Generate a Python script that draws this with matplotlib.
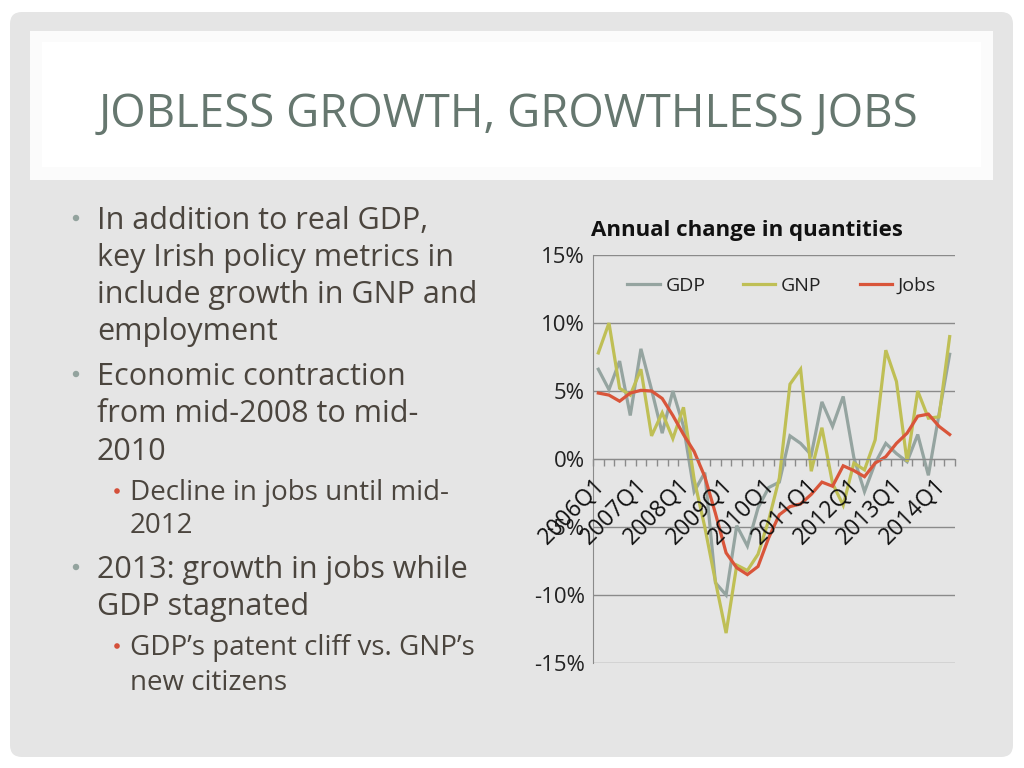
import matplotlib
matplotlib.use("Agg")
import matplotlib.pyplot as plt
from matplotlib.patches import FancyBboxPatch, Rectangle, Circle
from matplotlib.transforms import offset_copy
import numpy as np

# ---------------- data ----------------
quarters = [f"{y}Q{q}" for y in range(2006, 2015) for q in range(1, 5)][:34]
tick_labels = [q if q.endswith("Q1") else "" for q in quarters]

gdp = [6.6, 5.1, 7.2, 3.2, 8.1, 5.1, 1.9, 5.0, 2.4, -2.4, -1.0, -9.1, -10.0, -4.9,
       -6.4, -3.6, -2.1, -1.7, 1.7, 1.15, 0.3, 4.2, 2.4, 4.6, 0.1, -2.4, -0.3, 1.15,
       0.4, -0.2, 1.8, -1.2, 3.3, 7.7]
gnp = [7.8, 10.0, 5.2, 4.7, 6.6, 1.7, 3.4, 1.5, 3.8, -1.5, -5.0, -9.0, -12.8, -7.8,
       -8.2, -7.0, -4.5, -1.4, 5.5, 6.6, -0.9, 2.3, -1.8, -3.4, -0.3, -0.8, 1.4, 8.0,
       5.7, -0.2, 5.0, 3.0, 3.1, 9.0]
jobs = [4.85, 4.7, 4.25, 4.85, 5.05, 5.0, 4.45, 3.2, 1.8, 0.55, -1.3, -4.0, -6.9, -8.0,
        -8.5, -7.9, -5.8, -4.1, -3.5, -3.3, -2.6, -1.7, -2.0, -0.5, -0.85, -1.3, -0.3,
        0.17, 1.15, 1.9, 3.15, 3.3, 2.4, 1.8]
series_names = ["GDP", "GNP", "Jobs"]
y_ticks = [-15, -10, -5, 0, 5, 10, 15]

title = "JOBLESS GROWTH, GROWTHLESS JOBS"
chart_title = "Annual change in quantities"
bullets = [
    # (level, lines)
    (0, ["In addition to real GDP,", "key Irish policy metrics in",
         "include growth in GNP and", "employment"]),
    (0, ["Economic contraction", "from mid-2008 to mid-", "2010"]),
    (1, ["Decline in jobs until mid-", "2012"]),
    (0, ["2013: growth in jobs while", "GDP stagnated"]),
    (1, ["GDP\u2019s patent cliff vs. GNP\u2019s", "new citizens"]),
]

# ---------------- style ----------------
FONT = "Open Sans"
plt.rcParams["font.family"] = [FONT, "DejaVu Sans"]
W, H = 1024, 768
fig = plt.figure(figsize=(W / 100, H / 100), dpi=100)
fig.patch.set_facecolor("white")

bg = fig.add_axes([0, 0, 1, 1])
bg.set_xlim(0, W)
bg.set_ylim(H, 0)
bg.axis("off")

bg.add_patch(FancyBboxPatch((10, 12), 1003, 745, boxstyle="round,pad=0,rounding_size=12",
                            facecolor="#e5e5e5", edgecolor="none"))
bg.add_patch(Rectangle((30, 31), 963, 149, facecolor="#fbfbfb", edgecolor="none"))
bg.add_patch(Rectangle((42, 42), 939, 125, facecolor="white", edgecolor="none"))

bg.text(508, 127, title, fontsize=32.8, color="#66776f", ha="center", va="baseline",
        family=FONT)

text_color = "#4b453e"
main_bullet = "#93a39e"
sub_bullet = "#d4503a"
baselines = [[229, 266, 303, 340], [385, 422, 460], [500, 533], [578, 615], [655, 690]]
for (level, lines), bls in zip(bullets, baselines):
    if level == 0:
        x, fs, bx, bc, br = 97, 22, 76, main_bullet, 3.2
    else:
        x, fs, bx, bc, br = 130, 20, 117, sub_bullet, 2.8
    bg.add_patch(Circle((bx, bls[0] - (11 if level == 0 else 9)), br, facecolor=bc,
                        edgecolor="none"))
    for line, b in zip(lines, bls):
        bg.text(x, b, line, fontsize=fs, color=text_color, ha="left", va="baseline",
                family=FONT)

# ---------------- chart ----------------
left, right, top, bottom = 593, 955, 255, 663
ax = fig.add_axes([left / W, 1 - bottom / H, (right - left) / W, (bottom - top) / H])
ax.set_facecolor("none")
x = np.arange(len(quarters))
colors = ["#95a4a0", "#bfbf55", "#d9553a"]
for vals, name, c in zip([gdp, gnp, jobs], series_names, colors):
    ax.plot(x, vals, color=c, lw=2.3, label=name, solid_joinstyle="miter")

ax.set_xlim(-0.5, len(quarters) - 0.5)
ax.set_ylim(-15, 15)
ax.set_yticks(y_ticks)
ax.set_yticklabels([f"{t}%" for t in y_ticks], fontsize=16, color="#222222")
ax.tick_params(axis="y", length=0, pad=6)
ax.grid(axis="y", color="#8a8a8a", lw=1)
ax.set_axisbelow(True)
for s in ["top", "right"]:
    ax.spines[s].set_visible(False)
ax.spines["left"].set_color("#8a8a8a")
ax.spines["bottom"].set_position(("data", 0))
ax.spines["bottom"].set_color("#8a8a8a")
ax.set_xticks(np.arange(-0.5, len(quarters), 1.0))
ax.set_xticklabels([])
ax.tick_params(axis="x", direction="out", length=5, color="#8a8a8a", width=1)

lab_tr = offset_copy(ax.transData, fig=fig, x=3, y=-23, units="dots")
for i, lab in enumerate(tick_labels):
    if lab:
        ax.text(i, 0, lab, transform=lab_tr, rotation=45, rotation_mode="anchor",
                ha="right", va="center", fontsize=16.5, color="#111111", clip_on=False)

ax.text(0.425, 1.06, chart_title, transform=ax.transAxes, ha="center", va="center",
        fontsize=16, fontweight="bold", color="#111111")

leg = ax.legend(loc="center", bbox_to_anchor=(0.521, 0.924), ncol=3, frameon=False,
                fontsize=14, handlelength=1.65, columnspacing=1.95, handletextpad=0.3)
for t in leg.get_texts():
    t.set_color("#222222")

fig.savefig("out.png", dpi=100, facecolor="white")
